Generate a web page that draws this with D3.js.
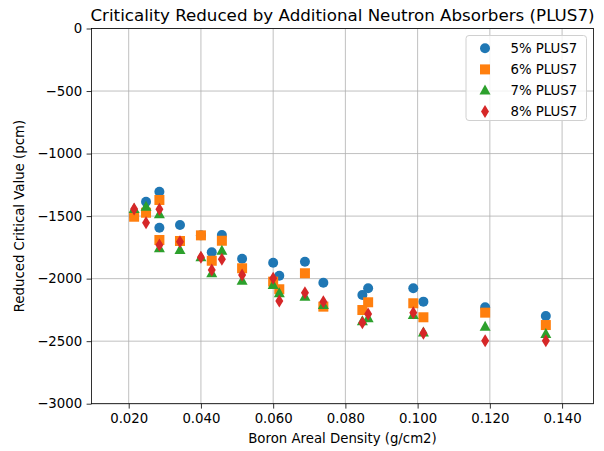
<!DOCTYPE html>
<html>
<head>
<meta charset="utf-8">
<script src="https://cdn.jsdelivr.net/npm/d3@7"></script>
<style>
  body { margin: 0; background: #fff; }
  svg { font-family: "DejaVu Sans", sans-serif; }
</style>
</head>
<body>
<div id="chart"></div>
<script>
// boron areal density (g/cm2), one entry per measured case
const density = [0.0215, 0.0248, 0.0285, 0.0285, 0.0342, 0.0400, 0.0430, 0.0458, 0.0514, 0.0600,
                 0.0617, 0.0688, 0.0739, 0.0847, 0.0863, 0.0988, 0.1016, 0.1187, 0.1355];

const plus5 = [-1500, -1385, -1305, -1593, -1571, -1654, -1789, -1651, -1841, -1873,
               -1977, -1865, -2033, -2131, -2077, -2077, -2184, -2229, -2299];
const plus6 = [-1505, -1473, -1371, -1691, -1699, -1654, -1857, -1697, -1917, -2024,
               -2085, -1957, -2224, -2251, -2189, -2197, -2309, -2272, -2371];
const plus7 = [-1443, -1425, -1486, -1757, -1771, -1829, -1957, -1777, -2016, -2051,
               -2117, -2144, -2210, -2340, -2317, -2291, -2430, -2384, -2443];
const plus8 = [-1443, -1553, -1446, -1731, -1705, -1829, -1931, -1845, -1971, -1997,
               -2179, -2112, -2184, -2352, -2283, -2272, -2437, -2496, -2496];

const seriesNames = ["5% PLUS7", "6% PLUS7", "7% PLUS7", "8% PLUS7"];
const xTicks = [0.02, 0.04, 0.06, 0.08, 0.10, 0.12, 0.14];
const yTicks = [0, -500, -1000, -1500, -2000, -2500, -3000];

const Margin = {TOP: 28.5, BOTTOM: 47.3, LEFT: 91.5, RIGHT: 10.5};
const Width = 604 - Margin.LEFT - Margin.RIGHT;
const Height = 451 - Margin.TOP - Margin.BOTTOM;

const colors = ["#1f77b4", "#ff7f0e", "#2ca02c", "#d62728"];
const allSeries = [plus5, plus6, plus7, plus8];

const svg = d3.select("#chart")
  .append("svg")
    .attr("width", 604)
    .attr("height", 451);

const g = svg.append("g")
  .attr("transform", `translate(${Margin.LEFT}, ${Margin.TOP})`);

const x = d3.scaleLinear().domain([0.0097, 0.1487]).range([0, Width]);
const y = d3.scaleLinear().domain([-3000, 0]).range([Height, 0]);

// grid
g.append("g").selectAll("line").data(xTicks).enter().append("line")
  .attr("x1", d => x(d)).attr("x2", d => x(d))
  .attr("y1", 0).attr("y2", Height)
  .attr("stroke", "#b0b0b0").attr("stroke-width", 0.8);
g.append("g").selectAll("line").data(yTicks).enter().append("line")
  .attr("x1", 0).attr("x2", Width)
  .attr("y1", d => y(d)).attr("y2", d => y(d))
  .attr("stroke", "#b0b0b0").attr("stroke-width", 0.8);

// axes
const fmtX = d3.format(".3f");
const fmtY = d => d3.format("d")(d).replace("-", "\u2212");

const xAxis = g.append("g")
  .attr("transform", `translate(0,${Height})`)
  .call(d3.axisBottom(x).tickValues(xTicks).tickFormat(fmtX).tickSize(4.9).tickPadding(4.5));
const yAxis = g.append("g")
  .call(d3.axisLeft(y).tickValues(yTicks).tickFormat(fmtY).tickSize(4.9).tickPadding(4.5));

[xAxis, yAxis].forEach(a => {
  a.select(".domain").remove();
  a.selectAll("line").attr("stroke", "#000").attr("stroke-width", 0.8);
  a.selectAll("text").attr("fill", "#000")
    .style("font-family", "DejaVu Sans").style("font-size", "13.3px");
});

// frame
g.append("rect")
  .attr("x", 0).attr("y", 0)
  .attr("width", Width).attr("height", Height)
  .attr("fill", "none").attr("stroke", "#000").attr("stroke-width", 0.8);

// markers
function drawMarker(sel, k) {
  if (k === 0) {
    sel.append("circle").attr("r", 5);
  } else if (k === 1) {
    sel.append("rect").attr("x", -5).attr("y", -5).attr("width", 10).attr("height", 10);
  } else if (k === 2) {
    sel.append("path").attr("d", "M0,-6L5.5,4L-5.5,4Z");
  } else {
    sel.append("path").attr("d", "M0,-6.5L4,0L0,6.5L-4,0Z");
  }
}

allSeries.forEach((vals, k) => {
  const pts = vals.map((v, i) => ({dx: density[i], val: v}));
  const grp = g.append("g").attr("fill", colors[k]);
  pts.forEach(p => {
    const m = grp.append("g")
      .attr("transform", `translate(${x(p.dx)},${y(p.val)})`);
    drawMarker(m, k);
  });
});

// title and labels
svg.append("text")
  .attr("x", Margin.LEFT + Width / 2)
  .attr("y", 21)
  .attr("text-anchor", "middle")
  .style("font-size", "16.7px")
  .text("Criticality Reduced by Additional Neutron Absorbers (PLUS7)");

svg.append("text")
  .attr("x", Margin.LEFT + Width / 2)
  .attr("y", 443)
  .attr("text-anchor", "middle")
  .style("font-size", "13.3px")
  .text("Boron Areal Density (g/cm2)");

svg.append("text")
  .attr("transform", `translate(24,${Margin.TOP + Height / 2}) rotate(-90)`)
  .attr("text-anchor", "middle")
  .style("font-size", "13.3px")
  .text("Reduced Critical Value (pcm)");

// legend
const legend = svg.append("g").attr("transform", "translate(466,35.5)");
legend.append("rect")
  .attr("width", 120.5).attr("height", 85)
  .attr("rx", 3)
  .attr("fill", "#fff").attr("fill-opacity", 0.8)
  .attr("stroke", "#d0d0d0").attr("stroke-width", 1);
seriesNames.forEach((name, k) => {
  const row = legend.append("g").attr("transform", `translate(19,${12.8 + k * 21.1})`);
  const m = row.append("g").attr("fill", colors[k]);
  drawMarker(m, k);
  row.append("text")
    .attr("x", 25.5).attr("y", 4.8)
    .style("font-size", "13.3px")
    .text(name);
});
</script>
</body>
</html>
